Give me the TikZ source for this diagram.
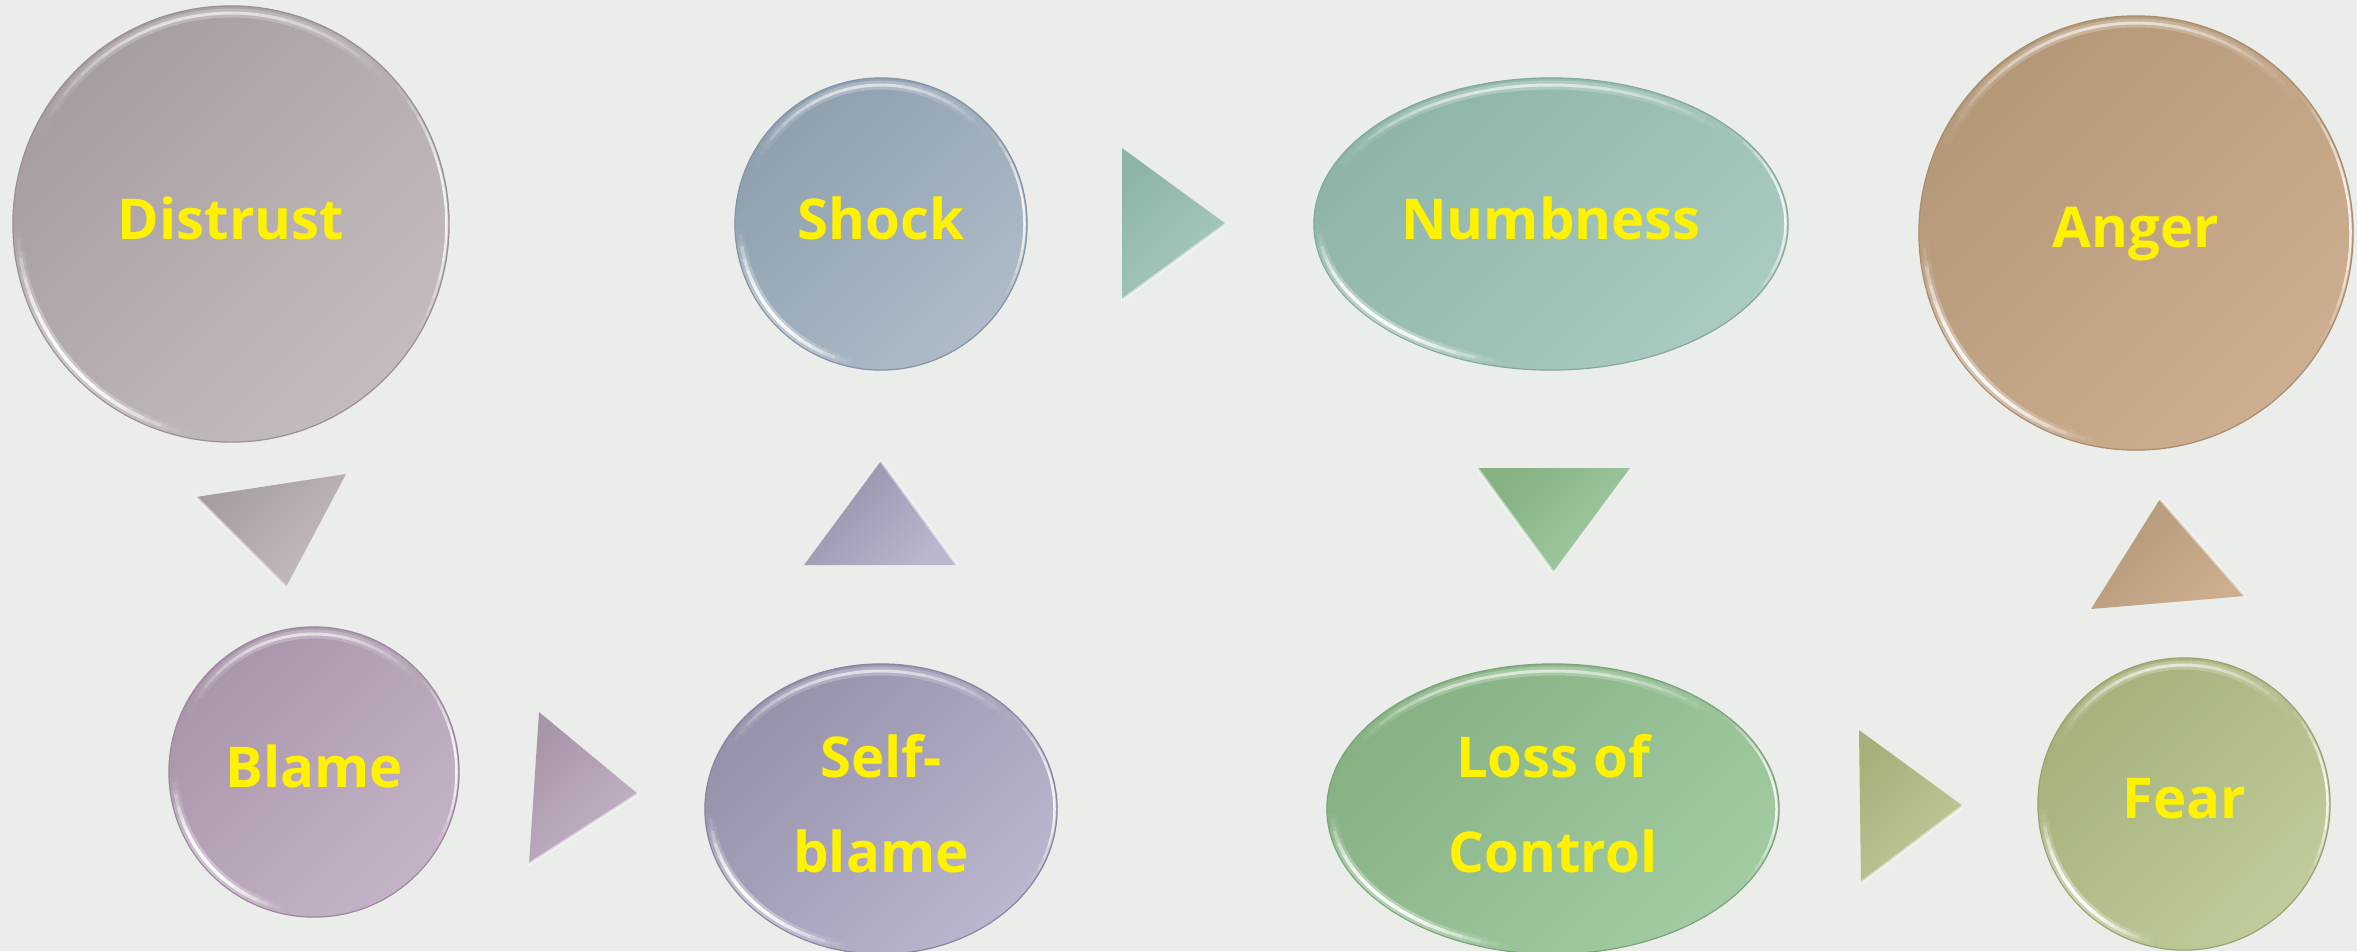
\documentclass[tikz,border=0pt]{standalone}
\usepackage{fontspec}
\IfFontExistsTF{Noto Sans Bold}{\newfontfamily\lblfont{Noto Sans Bold}}{%
  \IfFontExistsTF{Open Sans Bold}{\newfontfamily\lblfont{Open Sans Bold}}{\newfontfamily\lblfont{DejaVu Sans Bold}}}
\usetikzlibrary{shapes.geometric,calc}
\definecolor{bg}{HTML}{EBEDEA}
\definecolor{dtA}{HTML}{A69DA1}\definecolor{dtB}{HTML}{C4BCBC}\definecolor{dtE}{HTML}{9A9094}
\definecolor{shA}{HTML}{8E9FAF}\definecolor{shB}{HTML}{AEBBC7}\definecolor{shE}{HTML}{8494A4}
\definecolor{nuA}{HTML}{8EB4A8}\definecolor{nuB}{HTML}{A9CAC0}\definecolor{nuE}{HTML}{84A89C}
\definecolor{anA}{HTML}{B39878}\definecolor{anB}{HTML}{CDAE90}\definecolor{anE}{HTML}{A88C6E}
\definecolor{blA}{HTML}{A995AA}\definecolor{blB}{HTML}{C4B3C6}\definecolor{blE}{HTML}{9C889E}
\definecolor{sbA}{HTML}{9690AA}\definecolor{sbB}{HTML}{BAB6CE}\definecolor{sbE}{HTML}{8A849E}
\definecolor{loA}{HTML}{86B183}\definecolor{loB}{HTML}{A2CBA3}\definecolor{loE}{HTML}{7AA478}
\definecolor{feA}{HTML}{A4B17B}\definecolor{feB}{HTML}{BFCC9B}\definecolor{feE}{HTML}{98A470}
\tikzset{
  lbl/.style={text=yellow, font=\lblfont\fontsize{16}{27}\selectfont, align=center, text depth=1.2mm},
  disc/.style 2 args={ellipse, minimum width=#1, minimum height=#2, inner sep=0pt, outer sep=0pt, line width=0.12mm, lbl},
  shadeit/.style 2 args={top color=#1, bottom color=#2, shading angle=45},
  bevel/.style={white, opacity=.5, line width=0.3mm, line cap=round}
}
% node, rx, ry, start, end, width (mm), max opacity
\newcommand\glossarc[7]{%
  \foreach \i in {0,...,13}{%
    \pgfmathsetmacro\ga{#4+(#5-#4)*\i/14}%
    \pgfmathsetmacro\gb{#4+(#5-#4)*(\i+1)/14}%
    \pgfmathsetmacro\gop{#7*sin(180*(\i+0.5)/14)}%
    \draw[white, opacity=\gop, line width=#6mm] (#1.center) ++(\ga:#2 and #3) arc[start angle=\ga, end angle=\gb, x radius=#2, y radius=#3];
  }%
}
\newcommand\glossy[3]{%
  \pgfmathsetmacro\gax{#2-5}\pgfmathsetmacro\gay{#3-5}%
  \pgfmathsetmacro\gbx{#2-7}\pgfmathsetmacro\gby{#3-7}%
  \pgfmathsetmacro\gcx{#2-2.5}\pgfmathsetmacro\gcy{#3-2.5}%
  \glossarc{#1}{\gax}{\gay}{178}{102}{0.9}{0.35}%
  \glossarc{#1}{\gax}{\gay}{176}{104}{0.35}{0.95}%
  \glossarc{#1}{\gbx}{\gby}{-40}{-155}{0.9}{0.25}%
  \glossarc{#1}{\gbx}{\gby}{-45}{-150}{0.3}{0.6}%
  \glossarc{#1}{\gcx}{\gcy}{30}{-40}{0.25}{0.85}%
}
\begin{document}
\begin{tikzpicture}[x=0.01cm, y=-0.01cm]
\useasboundingbox (0,0) rectangle (2357,951);
\fill[bg] (0,0) rectangle (2357,951);
\begin{scope}
\clip (0,0) rectangle (2357,951);
% nodes
\node[disc={4.36cm}{4.36cm}, shadeit={dtA}{dtB}, draw=dtE] (d) at (231,224) {Distrust};
\node[disc={2.92cm}{2.92cm}, shadeit={shA}{shB}, draw=shE] (s) at (881,224) {Shock};
\node[disc={4.74cm}{2.92cm}, shadeit={nuA}{nuB}, draw=nuE] (n) at (1551,224) {Numbness};
\node[disc={4.34cm}{4.34cm}, shadeit={anA}{anB}, draw=anE] (a) at (2136,233) {Anger};
\node[disc={2.90cm}{2.90cm}, shadeit={blA}{blB}, draw=blE] (b) at (314,772) {Blame};
\node[disc={3.52cm}{2.90cm}, shadeit={sbA}{sbB}, draw=sbE] (sb) at (881,809) {Self-\\blame};
\node[disc={4.52cm}{2.90cm}, shadeit={loA}{loB}, draw=loE] (l) at (1553,809) {Loss of\\Control};
\node[disc={2.92cm}{2.92cm}, shadeit={feA}{feB}, draw=feE] (f) at (2184,804) {Fear};
\glossy{d}{218}{218}
\glossy{s}{146}{146}
\glossy{n}{237}{146}
\glossy{a}{217}{217}
\glossy{b}{145}{145}
\glossy{sb}{176}{145}
\glossy{l}{226}{145}
\glossy{f}{146}{146}
% triangles (arrow heads)
\path[shadeit={dtA}{dtB}] (196,497) -- (346,474) -- (286,587) -- cycle;
\draw[bevel] (196,497) -- (286,587);
\path[shadeit={blA}{blB}] (539,712) -- (638,794) -- (529,864) -- cycle;
\draw[bevel] (638,794) -- (529,864);
\path[shadeit={sbA}{sbB}] (804,565) -- (881,461) -- (957,565) -- cycle;
\draw[bevel] (881,461) -- (957,565);
\path[shadeit={nuA}{nuB}] (1122,148) -- (1226,224) -- (1122,300) -- cycle;
\draw[bevel] (1226,224) -- (1122,300);
\path[shadeit={loA}{loB}] (1477,468) -- (1630,468) -- (1553,572) -- cycle;
\draw[bevel] (1477,468) -- (1553,572);
\path[shadeit={feA}{feB}] (1859,730) -- (1963,806) -- (1861,883) -- cycle;
\draw[bevel] (1963,806) -- (1861,883);
\path[shadeit={anA}{anB}] (2160,499) -- (2091,609) -- (2245,596) -- cycle;
\draw[bevel] (2160,499) -- (2245,596);
\end{scope}
\end{tikzpicture}
\end{document}
